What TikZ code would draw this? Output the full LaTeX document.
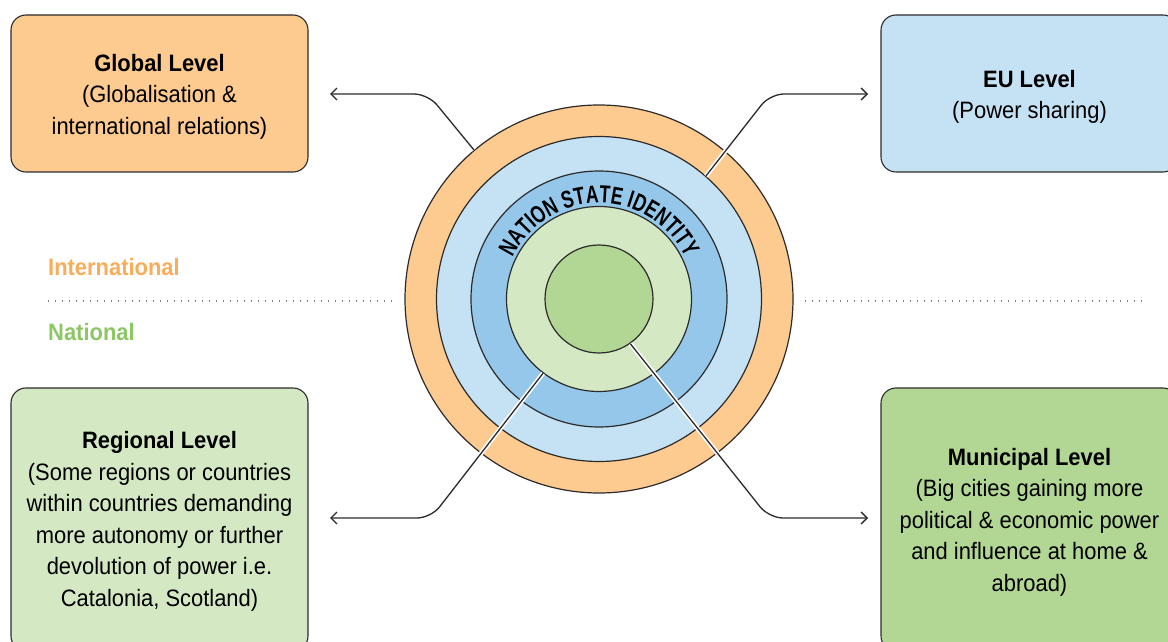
\documentclass[tikz,border=0pt]{standalone}
\usepackage{fontspec}
\setmainfont{Liberation Sans}[FakeStretch=0.925]
\newfontfamily\arcfont{Liberation Sans}[FakeStretch=0.72]
\usetikzlibrary{arrows.meta,decorations.text}
\definecolor{orng}{HTML}{FDCA8F}
\definecolor{ltblue}{HTML}{C5E2F4}
\definecolor{mdblue}{HTML}{94C7EA}
\definecolor{ltgreen}{HTML}{D5E8C4}
\definecolor{mdgreen}{HTML}{B2D694}
\definecolor{boxline}{HTML}{2B2B2B}
\definecolor{intlorange}{HTML}{F9AD5B}
\definecolor{natgreen}{HTML}{8CC665}
\begin{document}
\begin{tikzpicture}[x=1pt,y=1pt,
  boxstyle/.style={draw=boxline, line width=1.1pt, rounded corners=15pt,
    minimum width=297pt, minimum height=157pt, inner sep=0pt},
  tallbox/.style={boxstyle, minimum height=263pt},
  boxtext/.style={inner sep=0pt, align=center, font=\fontsize{23.7}{31.5}\selectfont},
  ring/.style={circle, draw=boxline, line width=1.2pt, inner sep=0pt},
  casing/.style={white, line width=4.6pt, rounded corners=14pt},
  conn/.style={boxline, line width=1.3pt, rounded corners=14pt,
    -{Straight Barb[length=6pt,width=12pt]}},
  dots/.style={draw=black!50, line width=1.3pt, dash pattern=on 1.3pt off 5.7pt},
  levellabel/.style={font=\bfseries\fontsize{23.7}{28}\selectfont, anchor=base west, inner sep=0pt}
]
\useasboundingbox (0,0) rectangle (1168,641);
\clip (0,0) rectangle (1168,641);

% boxes
\node[boxstyle, fill=orng] (glob) at (159.5,547.5) {};
\node[boxtext] (globt) at ([yshift=-3pt]glob.center)
  {\textbf{Global Level}\\(Globalisation \&\\international relations)};
\node[boxstyle, fill=ltblue] (eu) at (1029.5,547.5) {};
\node[boxtext] (eut) at ([yshift=-3.5pt]eu.center)
  {\textbf{EU Level}\\(Power sharing)};
\node[tallbox, fill=ltgreen] (reg) at (159.5,121.5) {};
\node[boxtext] (regt) at ([yshift=-2pt]reg.center)
  {\textbf{Regional Level}\\(Some regions or countries\\within countries demanding\\more autonomy or further\\devolution of power i.e.\\Catalonia, Scotland)};
\node[tallbox, fill=mdgreen] (mun) at (1029.5,121.5) {};
\node[boxtext] (munt) at ([yshift=-2.5pt]mun.center)
  {\textbf{Municipal Level}\\(Big cities gaining more\\political \& economic power\\and influence at home \&\\abroad)};

% level labels and dotted divider
\node[levellabel, text=intlorange] (intl) at (48,365) {International};
\node[levellabel, text=natgreen] (nat) at (48,301) {National};
\coordinate (dl1) at (48,340);
\coordinate (dl2) at (395,340);
\coordinate (dr1) at (805,340);
\coordinate (dr2) at (1142,340);
\draw[dots] (dl1) -- (dl2);
\draw[dots] (dr1) -- (dr2);

% concentric rings
\node[ring, fill=orng, minimum size=388pt] (r1) at (599,342) {};
\node[ring, fill=ltblue, minimum size=325pt] (r2) at (599,342) {};
\node[ring, fill=mdblue, minimum size=256pt] (r3) at (599,342) {};
\node[ring, fill=ltgreen, minimum size=185pt] (r4) at (599,342) {};
\node[ring, fill=mdgreen, minimum size=108pt] (r5) at (599,342) {};

\path[decorate, decoration={text along path, text align=center,
  text={|\arcfont\bfseries\fontsize{24.5}{25}\selectfont|NATION STATE IDENTITY}}]
  ([shift={(170:96)}]r1.center) arc[start angle=170, end angle=10, radius=96];

% connectors
\coordinate (gcorner) at (428,547);
\coordinate (gtip) at (330,547);
\coordinate (ecorner) at (770,547);
\coordinate (etip) at (868,547);
\coordinate (rcorner) at (431,123);
\coordinate (rtip) at (330,123);
\coordinate (mcorner) at (769,123);
\coordinate (mtip) at (868,123);

\draw[casing] (r1.130.4) -- (gcorner) -- (gtip);
\draw[conn] (r1.130.4) -- (gcorner) -- (gtip);
\draw[casing] (r2.49.5) -- (ecorner) -- (etip);
\draw[conn] (r2.49.5) -- (ecorner) -- (etip);
\draw[casing] (r4.233.6) -- (rcorner) -- (rtip);
\draw[conn] (r4.233.6) -- (rcorner) -- (rtip);
\draw[casing] (r5.305.7) -- (mcorner) -- (mtip);
\draw[conn] (r5.305.7) -- (mcorner) -- (mtip);
\end{tikzpicture}
\end{document}
